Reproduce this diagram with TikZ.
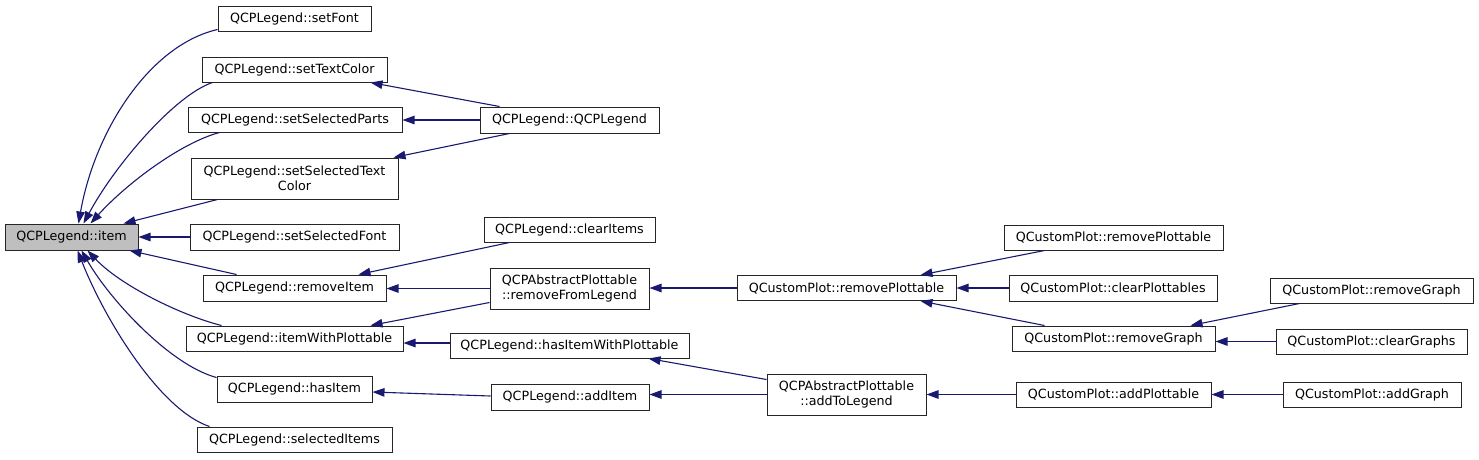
\documentclass[tikz,border=0pt]{standalone}
\usepackage{fontspec}
\setmainfont{DejaVu Sans}
\usetikzlibrary{arrows.meta,calc}
\definecolor{edgec}{HTML}{191970}
\definecolor{nodefill}{HTML}{BFBFBF}
\begin{document}
\begin{tikzpicture}[x=1pt,y=-1pt,
  box/.style={draw=black!85, line width=1pt, fill=white, inner sep=0pt,
    font=\fontsize{12.7}{15}\selectfont, align=center},
  edge/.style={draw=edgec, line width=1.1pt, -{Triangle[length=12pt,width=8.5pt]}}]
\useasboundingbox (0,0) rectangle (1479,459);
% column 1
\node[box, fill=nodefill, minimum width=133, minimum height=26] (item) at (71.5,237) {QCPLegend::item};
% column 2
\node[box, minimum width=153, minimum height=25] (sfont) at (294.5,18.5) {QCPLegend::setFont};
\node[box, minimum width=185, minimum height=25] (stc) at (294.5,69.5) {QCPLegend::setTextColor};
\node[box, minimum width=214, minimum height=25] (ssp) at (295,119.5) {QCPLegend::setSelectedParts};
\node[box, minimum width=207, minimum height=41] (sstc) at (294.5,178.5) {QCPLegend::setSelectedText\\Color};
\node[box, minimum width=209, minimum height=26] (ssf) at (294.5,237) {QCPLegend::setSelectedFont};
\node[box, minimum width=183, minimum height=26] (ri) at (294.5,288) {QCPLegend::removeItem};
\node[box, minimum width=217, minimum height=25] (iwp) at (294.5,338.5) {QCPLegend::itemWithPlottable};
\node[box, minimum width=155, minimum height=26] (hi) at (294.5,389) {QCPLegend::hasItem};
\node[box, minimum width=195, minimum height=25] (si) at (294.5,439.5) {QCPLegend::selectedItems};
% column 3
\node[box, minimum width=179, minimum height=26] (qcpl) at (569.5,120) {QCPLegend::QCPLegend};
\node[box, minimum width=171, minimum height=25] (ci) at (569.5,229.5) {QCPLegend::clearItems};
\node[box, minimum width=159, minimum height=41] (rfl) at (569.5,288.5) {QCPAbstractPlottable\\::removeFromLegend};
\node[box, minimum width=239, minimum height=25] (hiwp) at (569.5,345.5) {QCPLegend::hasItemWithPlottable};
\node[box, minimum width=158, minimum height=26] (ai) at (570,397) {QCPLegend::addItem};
% column 4
\node[box, minimum width=219, minimum height=25] (rpm) at (846.5,288) {QCustomPlot::removePlottable};
\node[box, minimum width=159, minimum height=41] (atl) at (846.5,394.5) {QCPAbstractPlottable\\::addToLegend};
% column 5
\node[box, minimum width=219, minimum height=25] (rpr) at (1113.5,237.5) {QCustomPlot::removePlottable};
\node[box, minimum width=208, minimum height=26] (cp) at (1113,288) {QCustomPlot::clearPlottables};
\node[box, minimum width=203, minimum height=25] (rgm) at (1113.5,338.5) {QCustomPlot::removeGraph};
\node[box, minimum width=195, minimum height=25] (apl) at (1113.5,394.5) {QCustomPlot::addPlottable};
% column 6
\node[box, minimum width=203, minimum height=25] (rgr) at (1371.5,290.5) {QCustomPlot::removeGraph};
\node[box, minimum width=191, minimum height=25] (cg) at (1371.5,341.5) {QCustomPlot::clearGraphs};
\node[box, minimum width=178, minimum height=25] (ag) at (1372,394.5) {QCustomPlot::addGraph};
% edges into item
\draw[edge] ($(sfont.south west)+(0,-2)$) .. controls (150,45) and (95,130) .. ($(item.north west)+(74,0)$);
\draw[edge] ($(stc.south west)+(11,0)$) .. controls (175,95) and (115,165) .. ($(item.north west)+(79,0)$);
\draw[edge] ($(ssp.south west)+(32,0)$) .. controls (180,143) and (125,185) .. ($(item.north west)+(86,0)$);
\draw[edge] ($(sstc.south west)+(27,0)$) -- ($(item.north west)+(119,0)$);
\draw[edge] (ssf.west) -- (item.east);
\draw[edge] ($(ri.north west)+(34,0)$) -- ($(item.south west)+(125,0)$);
\draw[edge] ($(iwp.north west)+(36,0)$) .. controls (180,315) and (120,285) .. ($(item.south west)+(83,0)$);
\draw[edge] ($(hi.north west)+(0,2)$) .. controls (170,365) and (110,300) .. ($(item.south west)+(77,0)$);
\draw[edge] ($(si.north west)+(13,0)$) .. controls (160,410) and (105,320) .. ($(item.south west)+(73,0)$);
% column 3 -> column 2
\draw[edge] ($(qcpl.north west)+(20,0)$) -- ($(stc.south east)+(-17,0)$);
\draw[edge] (qcpl.west) -- (qcpl.west -| ssp.east);
\draw[edge] ($(qcpl.south west)+(30,0)$) -- ($(sstc.north east)+(-5,0)$);
\draw[edge] ($(ci.south west)+(26,0)$) -- ($(ri.north east)+(-28,0)$);
\draw[edge] (rfl.west) -- (rfl.west -| ri.east);
\draw[edge] ($(rfl.south west)+(0,-7)$) -- ($(iwp.north east)+(-33,0)$);
\draw[edge] ($(hiwp.west)+(0,-2.5)$) -- ($(iwp.east)+(0,4.5)$);
\draw[edge] ($(ai.west)+(0,-1)$) -- ($(hi.east)+(0,3)$);
% column 4 -> column 3
\draw[edge] (rpm.west) -- (rpm.west -| rfl.east);
\draw[edge] ($(atl.north west)+(0,6)$) -- ($(hiwp.south west)+(199,0)$);
\draw[edge] (atl.west) -- (atl.west -| ai.east);
% column 5 -> column 4
\draw[edge] ($(rpr.south west)+(41,0)$) -- ($(rpm.north east)+(-36,0)$);
\draw[edge] (cp.west) -- (cp.west -| rpm.east);
\draw[edge] ($(rgm.north west)+(33,0)$) -- ($(rpm.south east)+(-36,0)$);
\draw[edge] (apl.west) -- (apl.west -| atl.east);
% column 6 -> column 5
\draw[edge] ($(rgr.south west)+(30,0)$) -- ($(rgm.north east)+(-25,0)$);
\draw[edge] (cg.west) -- (cg.west -| rgm.east);
\draw[edge] (ag.west) -- (ag.west -| apl.east);
\end{tikzpicture}
\end{document}
